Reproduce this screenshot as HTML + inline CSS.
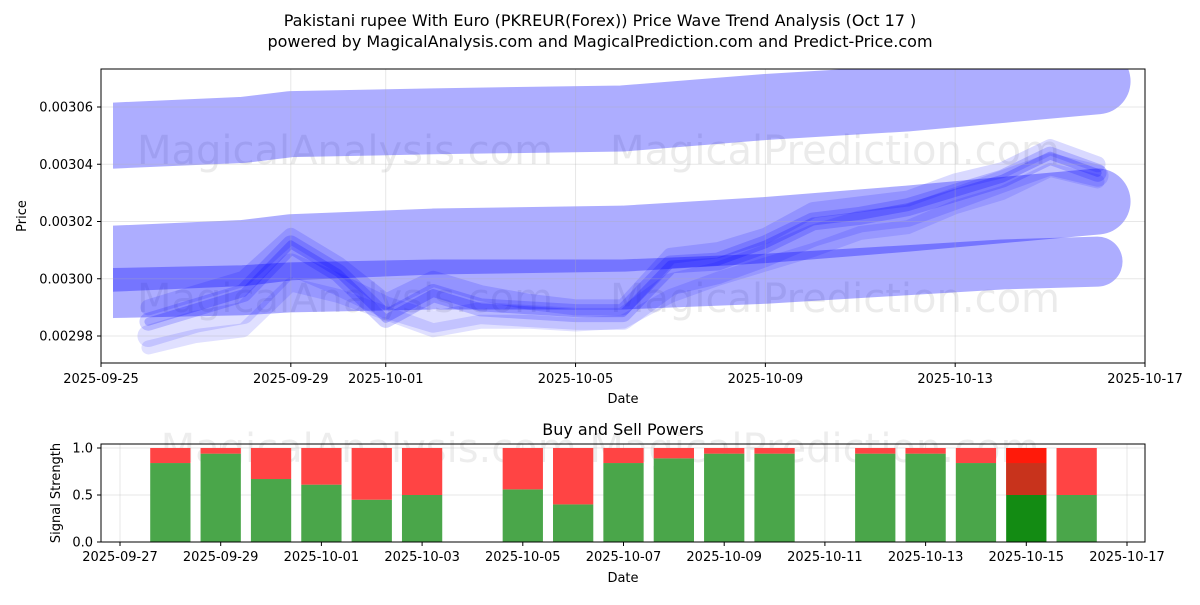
<!DOCTYPE html>
<html><head><meta charset="utf-8"><style>
body{margin:0;background:#fff;font-family:"Liberation Sans","DejaVu Sans",sans-serif}
svg text{font-family:"DejaVu Sans","Liberation Sans",sans-serif}
</style></head><body>
<svg id="c" width="1200" height="600" xmlns="http://www.w3.org/2000/svg">
<text x="600" y="26" text-anchor="middle" font-size="16">Pakistani rupee With Euro (PKREUR(Forex)) Price Wave Trend Analysis (Oct 17 )</text>
<text x="600" y="47" text-anchor="middle" font-size="16">powered by MagicalAnalysis.com and MagicalPrediction.com and Predict-Price.com</text>
<defs><clipPath id="cp1"><rect x="101" y="69" width="1044" height="294"/></clipPath>
<clipPath id="cp2"><rect x="113" y="69" width="1032" height="294"/></clipPath></defs>
<g id="topPanel"></g>
<g id="botPanel"></g>
</svg>
<script>
// ---- price chart data ----
const dayMs=86400000;
const bandDates=["2025-09-25","2025-09-28","2025-09-29","2025-10-02","2025-10-06","2025-10-09","2025-10-12","2025-10-14","2025-10-16"];
const bandTop=[0.003050,0.003052,0.003054,0.003055,0.003056,0.003060,0.003063,0.003066,0.003069];
const bandMid=[0.003007,0.003009,0.003011,0.003013,0.003014,0.003017,0.003021,0.003024,0.003027];
const bandLow=[0.002995,0.002996,0.002997,0.002998,0.002998,0.003000,0.003003,0.003005,0.003006];
const waveDates=["2025-09-26","2025-09-27","2025-09-28","2025-09-29","2025-09-30","2025-10-01","2025-10-02","2025-10-03","2025-10-04","2025-10-05","2025-10-06","2025-10-07","2025-10-08","2025-10-09","2025-10-10","2025-10-11","2025-10-12","2025-10-13","2025-10-14","2025-10-15","2025-10-16"];
const waveA=[0.002985,0.002990,0.002995,0.003012,0.003002,0.002986,0.002995,0.002990,0.002989,0.002988,0.002988,0.003005,0.003006,0.003012,0.003020,0.003022,0.003025,0.003030,0.003035,0.003043,0.003037];
const waveB=[0.002980,0.002985,0.002988,0.003005,0.002998,0.002990,0.002985,0.002988,0.002987,0.002986,0.002986,0.002998,0.003002,0.003008,0.003015,0.003020,0.003022,0.003028,0.003034,0.003040,0.003036];
const waveC=[0.002990,0.002995,0.003000,0.003015,0.003005,0.002992,0.003000,0.002995,0.002992,0.002990,0.002990,0.003008,0.003010,0.003015,0.003024,0.003026,0.003028,0.003034,0.003038,0.003046,0.003040];
const waveD=[0.002976,0.002980,0.002982,0.002998,0.002994,0.002988,0.002982,0.002985,0.002985,0.002984,0.002985,0.002994,0.003000,0.003005,0.003010,0.003016,0.003018,0.003025,0.003030,0.003038,0.003034];
const yTicks=[0.00298,0.00300,0.00302,0.00304,0.00306];
const xTicks=["2025-09-25","2025-09-29","2025-10-01","2025-10-05","2025-10-09","2025-10-13","2025-10-17"];
// ---- signal chart data ----
const sigDates=["2025-09-28","2025-09-29","2025-09-30","2025-10-01","2025-10-02","2025-10-03","2025-10-05","2025-10-06","2025-10-07","2025-10-08","2025-10-09","2025-10-10","2025-10-12","2025-10-13","2025-10-14","2025-10-15","2025-10-16"];
const buyVals=[0.84,0.94,0.67,0.61,0.45,0.50,0.56,0.40,0.84,0.89,0.94,0.94,0.94,0.94,0.84,0.50,0.50];
const sigYTicks=[0.0,0.5,1.0];
const sigXTicks=["2025-09-27","2025-09-29","2025-10-01","2025-10-03","2025-10-05","2025-10-07","2025-10-09","2025-10-11","2025-10-13","2025-10-15","2025-10-17"];

const NS="http://www.w3.org/2000/svg";
function mk(p,t,a,txt){const e=document.createElementNS(NS,t);for(const k in a)e.setAttribute(k,a[k]);if(txt!==undefined)e.textContent=txt;p.appendChild(e);return e;}
const d=s=>Date.parse(s+"T00:00:00Z");
const x0=d("2025-09-25"),x1=d("2025-10-17");
const X=s=>101+(d(s)-x0)/(x1-x0)*1044;
const Y=v=>107+(0.00306-v)/0.00002*57.25;
const topG=document.getElementById('topPanel'),botG=document.getElementById('botPanel');

[150,298].forEach(y=>{
 const w=mk(topG,'text',{x:345,y:y+14,'text-anchor':'middle','font-size':40,fill:'#000','fill-opacity':0.08},"MagicalAnalysis.com");
 
 
 const w2=mk(topG,'text',{x:835,y:y+14,'text-anchor':'middle','font-size':40,fill:'#000','fill-opacity':0.08},"MagicalPrediction.com");
 
 
});
const gb=mk(topG,'g',{'clip-path':'url(#cp2)'});
const g=mk(topG,'g',{'clip-path':'url(#cp1)'});
function band(vals,dates,w,op,name){
 const pts=vals.map((v,i)=>[X(dates[i])+(i==0?12:0),Y(v)]);
 const pl=mk(gb,'polyline',{points:pts.map(p=>p.join(',')).join(' '),fill:'none',stroke:'#0000ff','stroke-opacity':op,'stroke-width':w,'stroke-linejoin':'round','stroke-linecap':'round'});
 
 
}
band(bandTop,bandDates,66,0.32,'wave-band-top');
band(bandMid,bandDates,66,0.32,'wave-band-middle');
band(bandLow,bandDates,50,0.32,'wave-band-low');
[[waveA,18,0.18],[waveB,22,0.13],[waveC,16,0.15],[waveD,14,0.12],[waveA,8,0.22]].forEach(([arr,w,op])=>{
 const pts=arr.map((v,i)=>X(waveDates[i])+','+Y(v)).join(' ');
 const pl=mk(g,'polyline',{points:pts,fill:'none',stroke:'#0000ff','stroke-opacity':op,'stroke-width':w,'stroke-linejoin':'round','stroke-linecap':'round'});
 
 
});
yTicks.forEach(v=>{const y=Y(v);mk(topG,'line',{x1:101,x2:1145,y1:y,y2:y,stroke:'#b0b0b0','stroke-opacity':0.3});mk(topG,'line',{x1:97,x2:101,y1:y,y2:y,stroke:'#000'});
 const t=mk(topG,'text',{x:93,y:y+4.5,'text-anchor':'end','font-size':13},v.toFixed(5));
 
 });
xTicks.forEach(s=>{const x=X(s);mk(topG,'line',{x1:x,x2:x,y1:69,y2:363,stroke:'#b0b0b0','stroke-opacity':0.3});mk(topG,'line',{x1:x,x2:x,y1:363,y2:367,stroke:'#000'});
 const t=mk(topG,'text',{x:x,y:383,'text-anchor':'middle','font-size':13},s);
 
 });
mk(topG,'rect',{x:101,y:69,width:1044,height:294,fill:'none',stroke:'#000','stroke-width':1});
let t=mk(topG,'text',{x:623,y:403,'text-anchor':'middle','font-size':13},"Date");


t=mk(topG,'text',{x:26,y:216,'text-anchor':'middle','font-size':13,transform:'rotate(-90 26 216)'},"Price");



const bref=d("2025-09-27");
const dayPx=50.35;
const BX=s=>120+(d(s)-bref)/dayMs*dayPx;
const BY=v=>542-v*94;
t=mk(botG,'text',{x:623,y:435,'text-anchor':'middle','font-size':16},"Buy and Sell Powers");


mk(botG,'text',{x:600,y:462,'text-anchor':'middle','font-size':40,fill:'#000','fill-opacity':0.07},"MagicalAnalysis.com    MagicalPrediction.com");
sigYTicks.forEach(v=>{const y=BY(v);mk(botG,'line',{x1:101,x2:1145,y1:y,y2:y,stroke:'#b0b0b0','stroke-opacity':0.3});mk(botG,'line',{x1:97,x2:101,y1:y,y2:y,stroke:'#000'});
 const t=mk(botG,'text',{x:93,y:y+4.5,'text-anchor':'end','font-size':13},v.toFixed(1));
 
 });
sigXTicks.forEach(s=>{const x=BX(s);mk(botG,'line',{x1:x,x2:x,y1:444,y2:542,stroke:'#b0b0b0','stroke-opacity':0.3});mk(botG,'line',{x1:x,x2:x,y1:542,y2:546,stroke:'#000'});
 const t=mk(botG,'text',{x:x,y:561,'text-anchor':'middle','font-size':13},s);
 
 });
const bw=dayPx*0.8;
sigDates.forEach((s,i)=>{
 const x=BX(s)-bw/2,b=buyVals[i];
 const special=(s==="2025-10-15");
 const r1=mk(botG,'rect',{x:x,y:BY(b),width:bw,height:b*94,fill:special?'#138b13':'#4aa64a'});
 
 
 const r2=mk(botG,'rect',{x:x,y:BY(1),width:bw,height:(1-b)*94,fill:'#ff4444'});
 
 
 if(special){const o=mk(botG,'rect',{x:x,y:BY(0.84),width:bw,height:0.34*94,fill:'#c8331c'});
  
  
  const o2=mk(botG,'rect',{x:x,y:BY(1),width:bw,height:0.16*94,fill:'#ff1a0a'});
  
  }
});
mk(botG,'rect',{x:101,y:444,width:1044,height:98,fill:'none',stroke:'#000'});
t=mk(botG,'text',{x:623,y:582,'text-anchor':'middle','font-size':13},"Date");


t=mk(botG,'text',{x:60,y:493,'text-anchor':'middle','font-size':13,transform:'rotate(-90 60 493)'},"Signal Strength");


</script>
</body></html>
